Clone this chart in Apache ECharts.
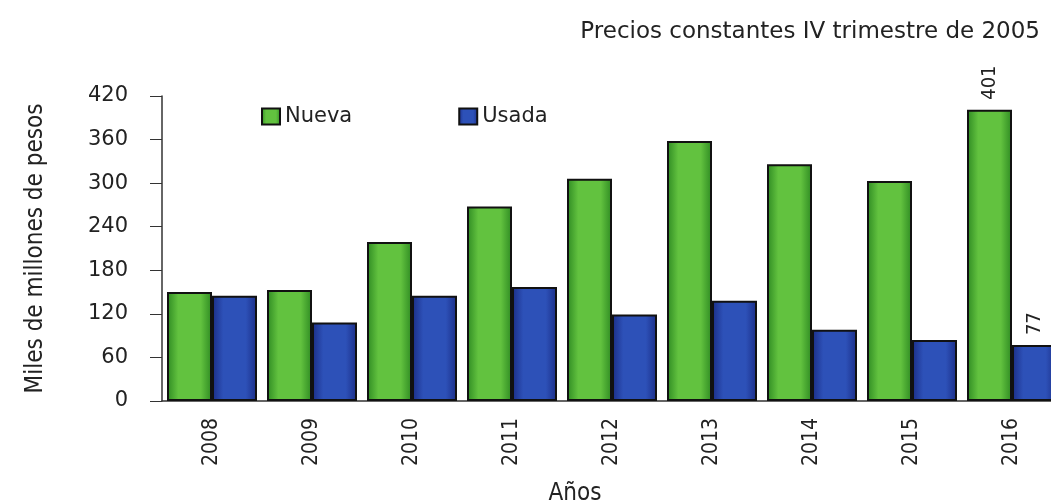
<!DOCTYPE html>
<html>
<head>
<meta charset="utf-8">
<title>Vivienda nueva y usada</title>
<script src="https://cdn.jsdelivr.net/npm/echarts@6/dist/echarts.min.js"></script>
<style>
html, body { margin: 0; padding: 0; background: #fff; }
#chart { width: 1051px; height: 504px; }
</style>
</head>
<body>
<div id="chart"></div>
<script>
// datos (miles de millones de pesos)
var years = ['2008', '2009', '2010', '2011', '2012', '2013', '2014', '2015', '2016'];
var nueva = [150, 153, 219, 268, 306, 358, 326, 303, 401];
var usada = [145, 108, 145, 157, 119, 138, 98, 84, 77];
var yMin = 0, yMax = 420, yStep = 60;

var wide = 'DejaVu Sans';
var narrow = 'DejaVu Sans Condensed';

function barFill(edge, mid) {
    return {
        type: 'linear', x: 0, y: 0, x2: 1, y2: 0,
        colorStops: [
            { offset: 0, color: edge },
            { offset: 0.25, color: mid },
            { offset: 0.75, color: mid },
            { offset: 1, color: edge }
        ]
    };
}

// solo el ultimo anio lleva etiqueta
var valueLabel = {
    show: true, position: 'top', rotate: 90, align: 'left', verticalAlign: 'middle',
    distance: 10, fontSize: 20, fontFamily: narrow, color: '#222'
};
function withLastLabel(arr) {
    return arr.map(function(v, i) {
        return i === arr.length - 1 ? { value: v, label: valueLabel } : v;
    });
}

var chart = echarts.init(document.getElementById('chart'));

var option = {
    animation: false,
    backgroundColor: '#fff',
    title: {
        text: 'Precios constantes IV trimestre de 2005',
        right: 6, top: 16,
        textStyle: { fontFamily: wide, fontSize: 23, fontWeight: 'normal', color: '#222' }
    },
    legend: {
        left: 256, top: 101,
        itemWidth: 18, itemHeight: 16, itemGap: 106,
        icon: 'rect',
        textStyle: { fontFamily: wide, fontSize: 21, color: '#222' },
        data: ['Nueva', 'Usada']
    },
    grid: { left: 162, top: 96, width: 900, height: 305, containLabel: false, outerBoundsMode: 'none' },
    xAxis: {
        type: 'category',
        data: years,
        name: 'Años',
        nameLocation: 'middle',
        nameGap: 81,
        nameTextStyle: { fontFamily: narrow, fontSize: 24, color: '#222', padding: [0, 74, 0, 0] },
        axisLine: { lineStyle: { color: '#333', width: 1.5 } },
        axisTick: { alignWithLabel: true, length: 7, lineStyle: { color: '#333' } },
        axisLabel: { rotate: 90, margin: 17, fontFamily: narrow, fontSize: 21, color: '#222' }
    },
    yAxis: {
        type: 'value',
        min: yMin, max: yMax, interval: yStep,
        name: 'Miles de millones de pesos',
        nameLocation: 'middle',
        nameGap: 114,
        nameTextStyle: { fontFamily: narrow, fontSize: 24, color: '#222' },
        axisLine: { show: true, lineStyle: { color: '#333', width: 1.5 } },
        axisTick: { show: true, length: 12, lineStyle: { color: '#333' } },
        axisLabel: { margin: 34, fontFamily: wide, fontSize: 21, color: '#222' },
        splitLine: { show: false }
    },
    series: [
        {
            name: 'Nueva', type: 'bar',
            barGap: '0%', barCategoryGap: '10%',
            itemStyle: { color: barFill('#2e8a22', '#62c23f'), borderColor: '#111', borderWidth: 2 },
            data: withLastLabel(nueva)
        },
        {
            name: 'Usada', type: 'bar',
            itemStyle: { color: barFill('#1b2d86', '#2d51b8'), borderColor: '#111', borderWidth: 2 },
            data: withLastLabel(usada)
        }
    ]
};

chart.setOption(option);
</script>
</body>
</html>
